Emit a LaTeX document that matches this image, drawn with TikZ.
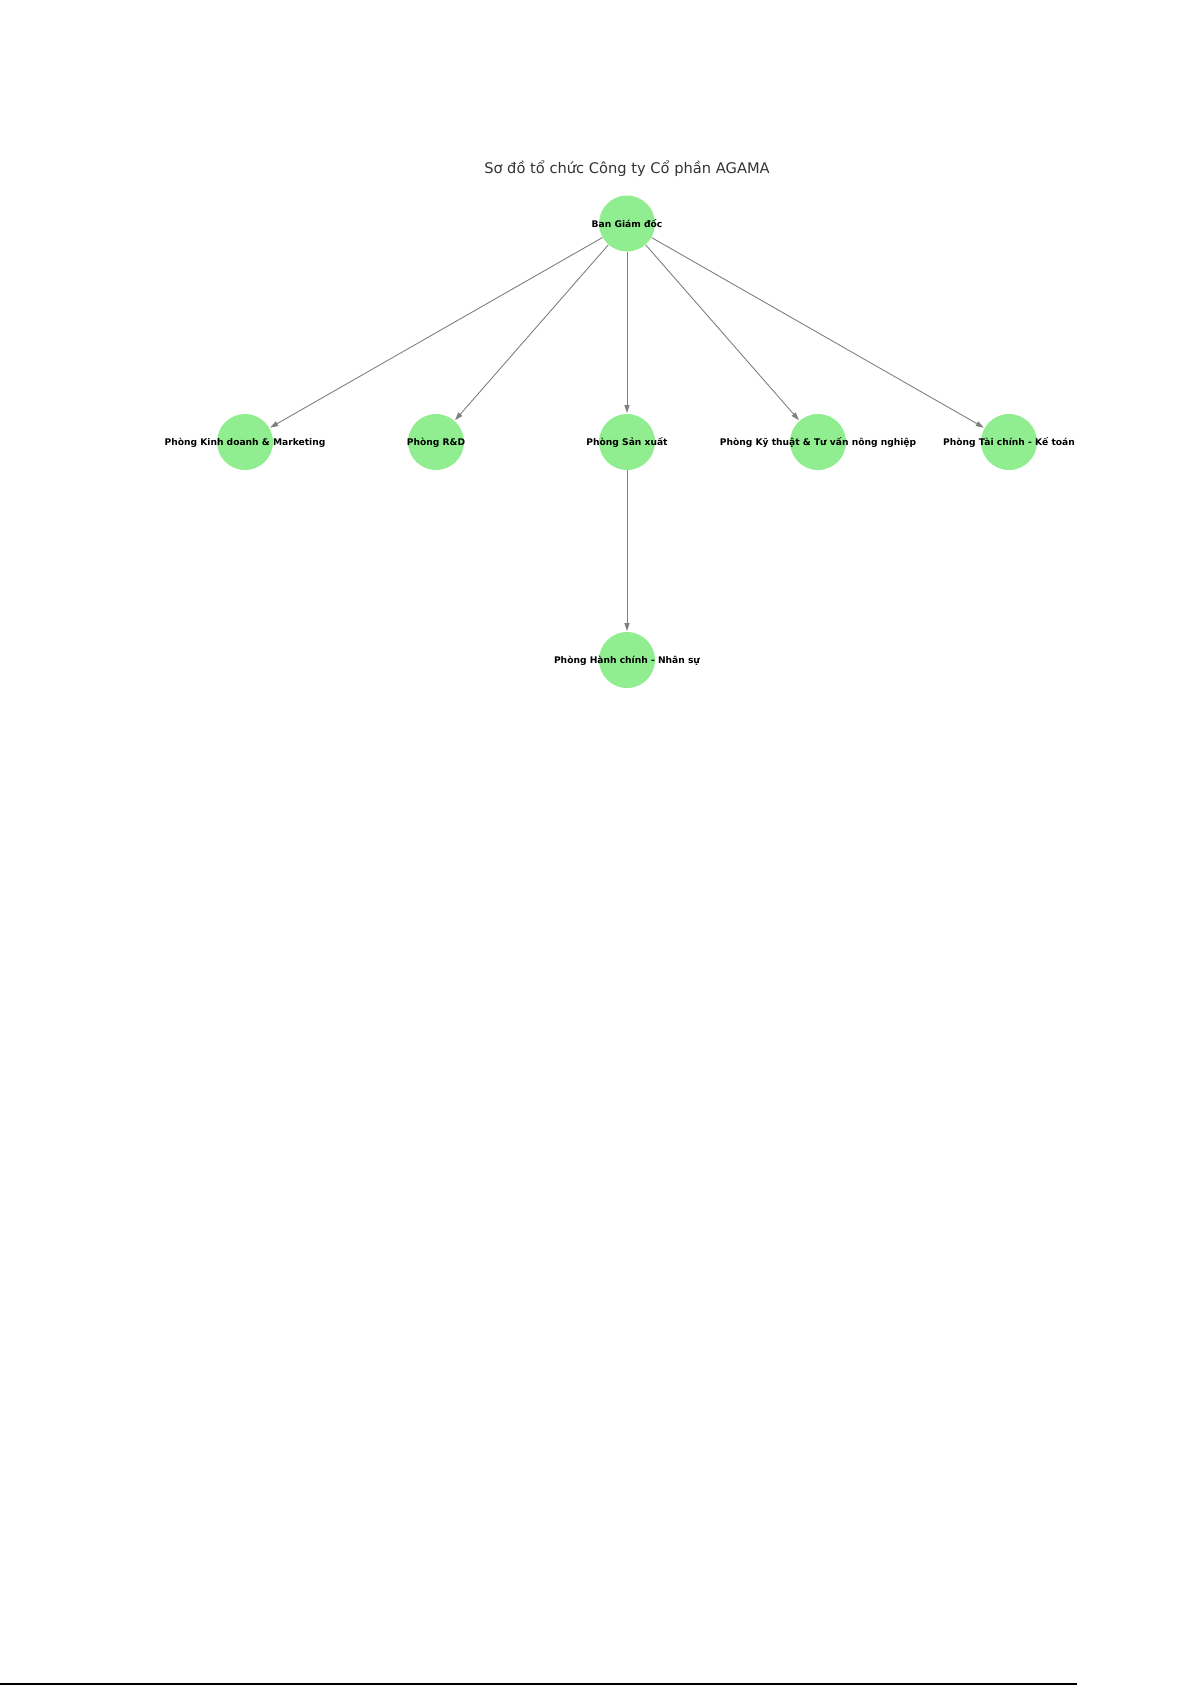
\documentclass[tikz,border=0pt]{standalone}
\usepackage{fontspec}
\setmainfont{DejaVu Sans}
\usetikzlibrary{arrows.meta}
\definecolor{nodegreen}{HTML}{90EE90}
\definecolor{edgegray}{HTML}{808080}
\tikzset{
  unitnode/.style={circle, fill=nodegreen, draw=none, minimum size=28bp, inner sep=0pt},
  lbl/.style={font=\fontsize{4.57bp}{5.5bp}\selectfont\bfseries, inner sep=0pt, text=black, anchor=base, yshift=-1.85bp},
  edge/.style={draw=edgegray, line width=0.45bp, -{Triangle[length=4bp,width=2.6bp]}, shorten >=0.3bp},
}
\begin{document}
\begin{tikzpicture}[x=0.5bp, y=-0.5bp]
\useasboundingbox (0,0) rectangle (1192,1685);
\node[font=\fontsize{7.33bp}{9bp}\selectfont, text=black!80, anchor=base, inner sep=0pt] (title) at (627,173.3) {Sơ đồ tổ chức Công ty Cổ phần AGAMA};
\node[unitnode] (bgd) at (627,223.5) {};
\node[unitnode] (kd) at (245,442) {};
\node[unitnode] (rd) at (436,442) {};
\node[unitnode] (sx) at (627,442) {};
\node[unitnode] (kt) at (818,442) {};
\node[unitnode] (tc) at (1009,442) {};
\node[unitnode] (hc) at (627,660) {};
\draw[edge] (bgd) -- (kd);
\draw[edge] (bgd) -- (rd);
\draw[edge] (bgd) -- (sx);
\draw[edge] (bgd) -- (kt);
\draw[edge] (bgd) -- (tc);
\draw[edge] (sx) -- (hc);
\node[lbl] (lbgd) at (bgd) {Ban Giám đốc};
\node[lbl] (lkd) at (kd) {Phòng Kinh doanh \& Marketing};
\node[lbl] (lrd) at (rd) {Phòng R\&D};
\node[lbl] (lsx) at (sx) {Phòng Sản xuất};
\node[lbl] (lkt) at (kt) {Phòng Kỹ thuật \& Tư vấn nông nghiệp};
\node[lbl] (ltc) at (tc) {Phòng Tài chính - Kế toán};
\node[lbl] (lhc) at (hc) {Phòng Hành chính - Nhân sự};
\coordinate (rl) at (0,1684);
\coordinate (rr) at (1077,1684);
\draw[black, line width=1bp] (rl) -- (rr);
\end{tikzpicture}
\end{document}
